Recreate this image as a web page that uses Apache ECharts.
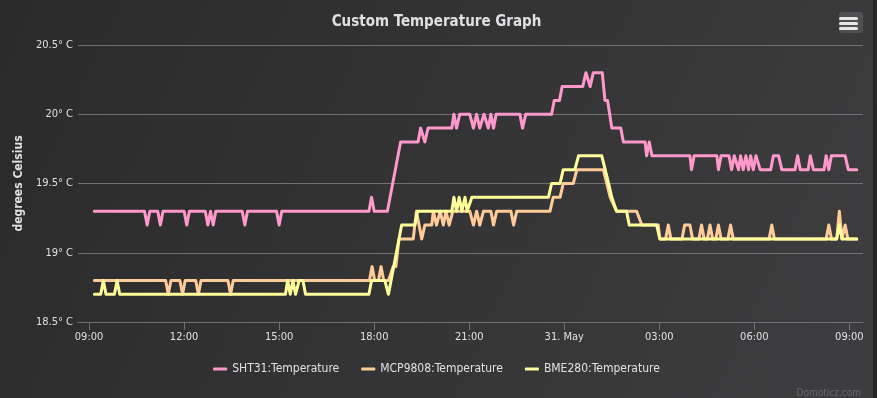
<!DOCTYPE html>
<html>
<head>
<meta charset="utf-8">
<script src="https://cdn.jsdelivr.net/npm/echarts@6/dist/echarts.min.js"></script>
<style>
  html, body { margin: 0; padding: 0; background: #262627; }
  #chart { width: 873px; height: 398px; }
</style>
</head>
<body>
<div id="chart"></div>
<script>
// x axis ticks (hours since 30 May 00:00) and their labels
const tickHours = [9, 12, 15, 18, 21, 24, 27, 30, 33]
const tickLabels = ['09:00', '12:00', '15:00', '18:00', '21:00', '31. May', '03:00', '06:00', '09:00']
const yTicks = [18.5, 19, 19.5, 20, 20.5]

const seriesNames = ['SHT31:Temperature', 'MCP9808:Temperature', 'BME280:Temperature']
const seriesColors = ['#ff99cc', '#ffcc99', '#ffff99']

// readings, 30 May 09:10 -> 31 May 09:14
const sht31 = [
  ['09:10', 19.3],
  ['10:45', 19.3], ['10:50', 19.2], ['10:55', 19.3],
  ['11:10', 19.3], ['11:15', 19.2], ['11:20', 19.3],
  ['12:00', 19.3], ['12:05', 19.2], ['12:10', 19.3],
  ['12:40', 19.3], ['12:45', 19.2], ['12:50', 19.3], ['12:55', 19.2], ['13:00', 19.3],
  ['13:50', 19.3], ['13:55', 19.2], ['14:00', 19.3],
  ['14:55', 19.3], ['15:00', 19.2], ['15:05', 19.3],
  ['17:50', 19.3], ['17:55', 19.4], ['18:00', 19.3],
  ['18:25', 19.3], ['18:50', 19.8],
  ['19:23', 19.8], ['19:28', 19.9], ['19:36', 19.8], ['19:42', 19.9],
  ['20:27', 19.9], ['20:31', 20.0], ['20:36', 19.9], ['20:42', 20.0],
  ['21:01', 20.0], ['21:08', 19.9], ['21:14', 20.0], ['21:20', 19.9], ['21:28', 20.0],
  ['21:36', 19.9], ['21:41', 20.0], ['21:46', 19.9], ['21:51', 20.0],
  ['22:36', 20.0], ['22:41', 19.9], ['22:47', 20.0],
  ['23:36', 20.0], ['23:41', 20.1], ['23:51', 20.1], ['23:56', 20.2],
  ['00:35', 20.2], ['00:41', 20.3], ['00:49', 20.2], ['00:55', 20.3],
  ['01:12', 20.3], ['01:17', 20.1], ['01:22', 20.1], ['01:30', 19.9],
  ['01:47', 19.9], ['01:52', 19.8],
  ['02:33', 19.8], ['02:36', 19.7], ['02:41', 19.8], ['02:46', 19.7],
  ['03:58', 19.7], ['04:01', 19.6], ['04:06', 19.7],
  ['04:49', 19.7], ['04:52', 19.6], ['04:57', 19.7],
  ['05:12', 19.7], ['05:17', 19.6], ['05:22', 19.7], ['05:30', 19.6], ['05:34', 19.7],
  ['05:39', 19.6], ['05:44', 19.7], ['05:49', 19.6], ['05:53', 19.7], ['05:58', 19.6],
  ['06:03', 19.7], ['06:11', 19.6],
  ['06:31', 19.6], ['06:36', 19.7], ['06:46', 19.7], ['06:52', 19.6],
  ['07:17', 19.6], ['07:22', 19.7], ['07:27', 19.6],
  ['07:42', 19.6], ['07:46', 19.7], ['07:52', 19.6],
  ['08:12', 19.6], ['08:16', 19.7], ['08:21', 19.6], ['08:26', 19.7],
  ['08:52', 19.7], ['08:58', 19.6], ['09:14', 19.6]
]

const mcp9808 = [
  ['09:10', 18.8],
  ['11:25', 18.8], ['11:30', 18.7], ['11:35', 18.8],
  ['11:52', 18.8], ['11:57', 18.7], ['12:02', 18.8],
  ['12:22', 18.8], ['12:27', 18.7], ['12:32', 18.8],
  ['13:23', 18.8], ['13:28', 18.7], ['13:33', 18.8],
  ['17:51', 18.8], ['17:56', 18.9], ['18:01', 18.8], ['18:08', 18.8], ['18:13', 18.9], ['18:18', 18.8],
  ['18:27', 18.8], ['18:36', 18.9], ['18:41', 18.9], ['18:47', 19.1],
  ['19:14', 19.1], ['19:20', 19.3], ['19:30', 19.1], ['19:36', 19.2],
  ['19:49', 19.2], ['19:52', 19.3], ['19:58', 19.2], ['20:05', 19.3], ['20:11', 19.2],
  ['20:16', 19.3], ['20:22', 19.2], ['20:29', 19.3],
  ['21:01', 19.3], ['21:08', 19.2], ['21:14', 19.3], ['21:20', 19.2], ['21:27', 19.3],
  ['21:41', 19.3], ['21:46', 19.2], ['21:52', 19.3],
  ['22:19', 19.3], ['22:24', 19.2], ['22:30', 19.3],
  ['23:33', 19.3], ['23:39', 19.4], ['23:52', 19.4], ['23:58', 19.5],
  ['00:17', 19.5], ['00:24', 19.6],
  ['01:14', 19.6], ['01:27', 19.4], ['01:39', 19.3],
  ['02:17', 19.3], ['02:27', 19.2],
  ['02:58', 19.2], ['03:01', 19.1],
  ['03:12', 19.1], ['03:17', 19.2], ['03:22', 19.1],
  ['03:43', 19.1], ['03:48', 19.2], ['03:58', 19.2], ['04:03', 19.1],
  ['04:15', 19.1], ['04:20', 19.2], ['04:25', 19.1],
  ['04:31', 19.1], ['04:36', 19.2], ['04:41', 19.1],
  ['04:47', 19.1], ['04:52', 19.2], ['04:57', 19.1],
  ['05:10', 19.1], ['05:15', 19.2], ['05:20', 19.1],
  ['06:28', 19.1], ['06:33', 19.2], ['06:38', 19.1],
  ['08:16', 19.1], ['08:21', 19.2], ['08:26', 19.1],
  ['08:36', 19.1], ['08:41', 19.3], ['08:46', 19.1], ['08:52', 19.2], ['08:57', 19.1],
  ['09:14', 19.1]
]

const bme280 = [
  ['09:10', 18.7],
  ['09:22', 18.7], ['09:27', 18.8], ['09:32', 18.7],
  ['09:48', 18.7], ['09:53', 18.8], ['09:58', 18.7],
  ['15:12', 18.7], ['15:16', 18.8], ['15:21', 18.7], ['15:26', 18.8], ['15:31', 18.7],
  ['15:38', 18.8], ['15:45', 18.8], ['15:50', 18.7],
  ['17:50', 18.7], ['17:55', 18.8], ['18:20', 18.8], ['18:27', 18.7], ['18:52', 19.2],
  ['19:17', 19.2], ['19:22', 19.3],
  ['20:27', 19.3], ['20:31', 19.4], ['20:36', 19.3], ['20:41', 19.4], ['20:46', 19.3],
  ['20:52', 19.4], ['20:56', 19.3], ['21:05', 19.4],
  ['23:30', 19.4], ['23:36', 19.5], ['23:52', 19.5], ['23:58', 19.6],
  ['00:20', 19.6], ['00:27', 19.7],
  ['01:11', 19.7], ['01:24', 19.5], ['01:30', 19.4], ['01:39', 19.3],
  ['01:58', 19.3], ['02:03', 19.2],
  ['02:55', 19.2], ['03:01', 19.1],
  ['08:36', 19.1], ['08:41', 19.2], ['08:46', 19.1],
  ['09:14', 19.1]
]

// 'HH:MM' -> hours since 30 May 00:00, rolling over past midnight
function toPoints(rows) {
  let day = 0
  let last = -1
  return rows.map(([t, v]) => {
    const [h, m] = t.split(':').map(Number)
    let hrs = h + m / 60
    if (hrs + day * 24 < last) day++
    hrs += day * 24
    last = hrs
    return [hrs, v]
  })
}

const FONT = "'DejaVu Sans Condensed', 'Liberation Sans Narrow', 'Open Sans', sans-serif"
const TEXT = '#e0e0e3'
const GRID = '#707073'

const chart = echarts.init(document.getElementById('chart'), null, { renderer: 'canvas' })

chart.setOption({
  backgroundColor: {
    type: 'linear', x: 0, y: 0, x2: 1, y2: 1,
    colorStops: [{ offset: 0, color: '#2a2a2b' }, { offset: 1, color: '#3e3e40' }]
  },
  animation: false,
  textStyle: { fontFamily: FONT },
  title: {
    text: 'Custom Temperature Graph',
    left: 'center',
    top: 10,
    textStyle: { color: TEXT, fontSize: 15, fontWeight: 'bold', fontFamily: FONT }
  },
  legend: {
    bottom: 18,
    left: 'center',
    icon: 'roundRect',
    itemWidth: 14,
    itemHeight: 3,
    itemGap: 22,
    textStyle: { color: TEXT, fontSize: 12, fontFamily: FONT },
    data: seriesNames
  },
  grid: { left: 78, right: 10, top: 45, bottom: 76 },
  xAxis: {
    type: 'value',
    min: 8.65,
    max: 33.43,
    axisLine: { lineStyle: { color: GRID } },
    axisTick: { show: true, customValues: tickHours, length: 8, lineStyle: { color: GRID } },
    axisLabel: {
      customValues: tickHours,
      color: TEXT,
      fontSize: 11,
      margin: 10,
      fontFamily: FONT,
      formatter: v => tickLabels[tickHours.indexOf(v)]
    },
    splitLine: { show: false }
  },
  yAxis: {
    type: 'value',
    min: 18.5,
    max: 20.5,
    interval: 0.5,
    name: 'degrees Celsius',
    nameLocation: 'middle',
    nameRotate: 90,
    nameGap: 50,
    nameTextStyle: { color: TEXT, fontSize: 12, fontWeight: 'bold', fontFamily: FONT },
    axisLine: { show: false },
    axisTick: { show: false },
    axisLabel: {
      color: TEXT,
      fontSize: 11,
      margin: 5,
      fontFamily: FONT,
      formatter: v => (yTicks.includes(v) ? v + '° C' : '')
    },
    splitLine: { lineStyle: { color: GRID, width: 1 } }
  },
  graphic: [
    {
      type: 'rect', right: 10, top: 12,
      shape: { width: 24, height: 21, r: 3 },
      style: { fill: '#505053' }
    },
    {
      type: 'group', right: 14, top: 16,
      children: [0, 5, 10].map(y => ({
        type: 'line',
        shape: { x1: 0, y1: y + 1.5, x2: 16, y2: y + 1.5 },
        style: { stroke: '#e6e6e6', lineWidth: 3, lineCap: 'round' }
      }))
    },
    {
      type: 'text', right: 12, bottom: 0,
      style: { text: 'Domoticz.com', fill: '#666668', fontSize: 10, fontFamily: FONT }
    }
  ],
  series: [sht31, mcp9808, bme280].map((rows, i) => ({
    name: seriesNames[i],
    type: 'line',
    data: toPoints(rows),
    showSymbol: false,
    color: seriesColors[i],
    lineStyle: { width: 3, join: 'round', cap: 'round' }
  }))
})
</script>
</body>
</html>
